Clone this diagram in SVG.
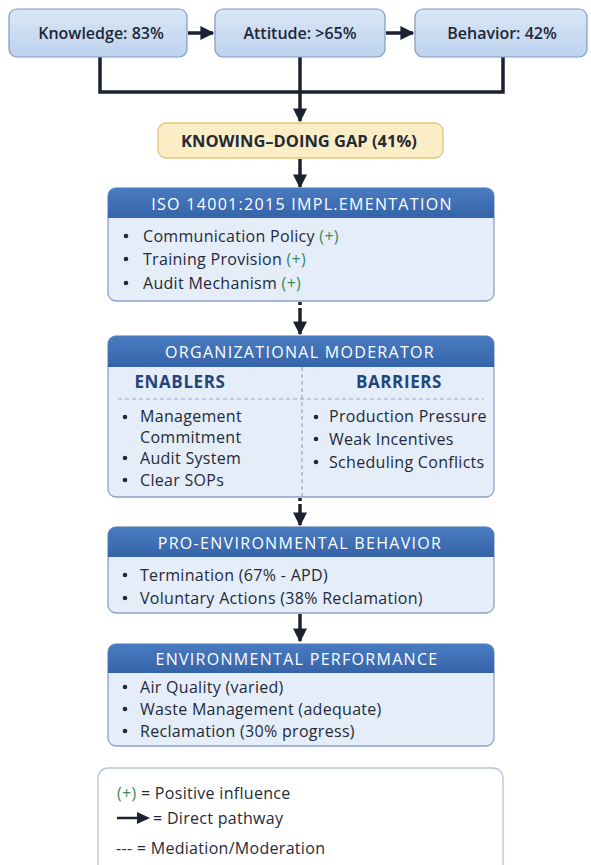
<svg xmlns="http://www.w3.org/2000/svg" width="591" height="865" viewBox="0 0 591 865">
  <defs>
    <linearGradient id="topFill" x1="0" y1="0" x2="0" y2="1">
      <stop offset="0" stop-color="#dbe7f6"/>
      <stop offset="1" stop-color="#bcd2ee"/>
    </linearGradient>
    <linearGradient id="headFill" x1="0" y1="0" x2="0" y2="1">
      <stop offset="0" stop-color="#4a7cc2"/>
      <stop offset="1" stop-color="#3563a8"/>
    </linearGradient>
    <marker id="arrow" viewBox="0 0 10 10" refX="9" refY="5" markerWidth="4" markerHeight="4" orient="auto" markerUnits="strokeWidth">
      <path d="M0,0 L10,5 L0,10 Z" fill="#1c2230"/>
    </marker>
    <style>
      .top { fill: url(#topFill); stroke: #7d9ac3; stroke-width: 1.2; }
      .topText { font-family: "Open Sans", "Noto Sans", sans-serif; font-weight: 600; font-size: 16px; fill: #1e2736; text-anchor: middle; }
      .body { fill: #e4edf8; stroke: #8aa3c6; stroke-width: 1.3; }
      .head { fill: url(#headFill); }
      .headText { font-family: "Open Sans", "Noto Sans", sans-serif; font-size: 16px; font-weight: 500; letter-spacing: 1.3px; fill: #ffffff; text-anchor: middle; }
      .item { font-family: "Open Sans", "Noto Sans", sans-serif; font-size: 16px; letter-spacing: 0.3px; fill: #1f2a3a; }
      .dot { fill: #1f2a3a; }
      .plus { fill: #3b8a5a; }
      .sub { font-family: "Open Sans", "Noto Sans", sans-serif; font-size: 17px; font-weight: 700; letter-spacing: 0.6px; fill: #24457a; text-anchor: middle; }
      .conn { stroke: #1c2230; stroke-width: 3.5; fill: none; }
      .dash { stroke: #9aaac0; stroke-width: 1.2; stroke-dasharray: 4 3; fill: none; }
    </style>
  </defs>

  <rect width="591" height="865" fill="#ffffff"/>

  <!-- connectors -->
  <g id="connectors">
    <line class="conn" x1="188" y1="33" x2="213" y2="33" stroke-width="3" marker-end="url(#arrow)"/>
    <line class="conn" x1="386" y1="33" x2="413" y2="33" stroke-width="3" marker-end="url(#arrow)"/>
    <polyline class="conn" points="100,57 100,92 503,92 503,57"/>
    <line class="conn" x1="300" y1="57" x2="300" y2="92"/>
    <line class="conn" x1="300" y1="92" x2="300" y2="121" stroke-width="3" marker-end="url(#arrow)"/>
    <line class="conn" x1="300" y1="159" x2="300" y2="187" stroke-width="3" marker-end="url(#arrow)"/>
    <line class="conn" x1="300" y1="302" x2="300" y2="305" stroke-width="2"/>
    <line class="conn" x1="300" y1="308" x2="300" y2="334" stroke-width="3" marker-end="url(#arrow)"/>
    <line class="conn" x1="300" y1="498" x2="300" y2="501" stroke-width="2"/>
    <line class="conn" x1="300" y1="504" x2="300" y2="525" stroke-width="3" marker-end="url(#arrow)"/>
    <line class="conn" x1="300" y1="614" x2="300" y2="641" stroke-width="3" marker-end="url(#arrow)"/>
  </g>

  <!-- top row -->
  <g id="knowledge">
    <rect class="top" x="9" y="9" width="178" height="48" rx="8"/>
    <text class="topText" x="101" y="39">Knowledge: 83%</text>
  </g>
  <g id="attitude">
    <rect class="top" x="215" y="9" width="170" height="48" rx="8"/>
    <text class="topText" x="300" y="39">Attitude: &gt;65%</text>
  </g>
  <g id="behavior">
    <rect class="top" x="415" y="9" width="172" height="48" rx="8"/>
    <text class="topText" x="502" y="39">Behavior: 42%</text>
  </g>

  <!-- gap -->
  <g id="gap">
    <rect x="158" y="123" width="285" height="35" rx="8" fill="#fbeec6" stroke="#e2c67c" stroke-width="1.3"/>
    <text x="299" y="146.5" font-family="'Open Sans', 'Noto Sans', sans-serif" font-size="16.5" font-weight="700" fill="#222a36" text-anchor="middle">KNOWING–DOING GAP (41%)</text>
  </g>

  <!-- ISO implementation -->
  <g id="iso">
    <rect class="body" x="108" y="188" width="386" height="113" rx="8"/>
    <path class="head" d="M108,218 V196 A8,8 0 0 1 116,188 H486 A8,8 0 0 1 494,196 V218 Z"/>
    <text class="headText" x="302" y="209.5">ISO 14001:2015 IMPL.EMENTATION</text>
    <circle class="dot" cx="126" cy="236" r="2.3"/>
    <text class="item" x="143" y="241.5">Communication Policy <tspan class="plus">(+)</tspan></text>
    <circle class="dot" cx="126" cy="259" r="2.3"/>
    <text class="item" x="143" y="264.5">Training Provision <tspan class="plus">(+)</tspan></text>
    <circle class="dot" cx="126" cy="283" r="2.3"/>
    <text class="item" x="143" y="288.5">Audit Mechanism <tspan class="plus">(+)</tspan></text>
  </g>

  <!-- organizational moderator -->
  <g id="moderator">
    <rect class="body" x="108" y="336" width="386" height="161" rx="8"/>
    <path class="head" d="M108,367 V344 A8,8 0 0 1 116,336 H486 A8,8 0 0 1 494,344 V367 Z"/>
    <text class="headText" x="300" y="357.5">ORGANIZATIONAL MODERATOR</text>
    <line class="dash" x1="302" y1="367" x2="302" y2="497"/>
    <line class="dash" x1="118" y1="399" x2="484" y2="399"/>
    <text class="sub" x="180" y="388">ENABLERS</text>
    <text class="sub" x="399" y="388">BARRIERS</text>
    <circle class="dot" cx="125" cy="417" r="2.3"/>
    <text class="item" x="140" y="422">Management</text>
    <text class="item" x="140" y="443">Commitment</text>
    <circle class="dot" cx="125" cy="458" r="2.3"/>
    <text class="item" x="140" y="463.5">Audit System</text>
    <circle class="dot" cx="125" cy="480" r="2.3"/>
    <text class="item" x="140" y="485.5">Clear SOPs</text>
    <circle class="dot" cx="316" cy="417" r="2.3"/>
    <text class="item" x="329" y="422">Production Pressure</text>
    <circle class="dot" cx="316" cy="439" r="2.3"/>
    <text class="item" x="329" y="444.5">Weak Incentives</text>
    <circle class="dot" cx="316" cy="462" r="2.3"/>
    <text class="item" x="329" y="467.5">Scheduling Conflicts</text>
  </g>

  <!-- pro-environmental behavior -->
  <g id="behavior-outcome">
    <rect class="body" x="108" y="527" width="386" height="86" rx="8"/>
    <path class="head" d="M108,557 V535 A8,8 0 0 1 116,527 H486 A8,8 0 0 1 494,535 V557 Z"/>
    <text class="headText" x="300" y="548.5">PRO-ENVIRONMENTAL  BEHAVIOR</text>
    <circle class="dot" cx="125" cy="575" r="2.3"/>
    <text class="item" x="140" y="580.5">Termination (67% - APD)</text>
    <circle class="dot" cx="125" cy="598" r="2.3"/>
    <text class="item" x="140" y="603.5">Voluntary Actions (38% Reclamation)</text>
  </g>

  <!-- environmental performance -->
  <g id="performance">
    <rect class="body" x="108" y="644" width="386" height="102" rx="8"/>
    <path class="head" d="M108,673 V652 A8,8 0 0 1 116,644 H486 A8,8 0 0 1 494,652 V673 Z"/>
    <text class="headText" x="297" y="665">ENVIRONMENTAL PERFORMANCE</text>
    <circle class="dot" cx="125" cy="687" r="2.3"/>
    <text class="item" x="140" y="692.5">Air Quality (varied)</text>
    <circle class="dot" cx="125" cy="709" r="2.3"/>
    <text class="item" x="140" y="714.5">Waste Management (adequate)</text>
    <circle class="dot" cx="125" cy="731" r="2.3"/>
    <text class="item" x="140" y="736.5">Reclamation (30% progress)</text>
  </g>

  <!-- legend -->
  <g id="legend">
    <rect x="98" y="768" width="405" height="110" rx="10" fill="#ffffff" stroke="#b8c5d6" stroke-width="1.3"/>
    <text class="item" x="117" y="798.5"><tspan class="plus">(+)</tspan> = Positive influence</text>
    <line x1="117" y1="818" x2="140" y2="818" stroke="#1c2230" stroke-width="2.5"/>
    <path d="M137,812 L150,818 L137,824 Z" fill="#1c2230"/>
    <text class="item" x="153" y="823.5">= Direct pathway</text>
    <text class="item" x="116" y="853.5">--- = Mediation/Moderation</text>
  </g>
</svg>
